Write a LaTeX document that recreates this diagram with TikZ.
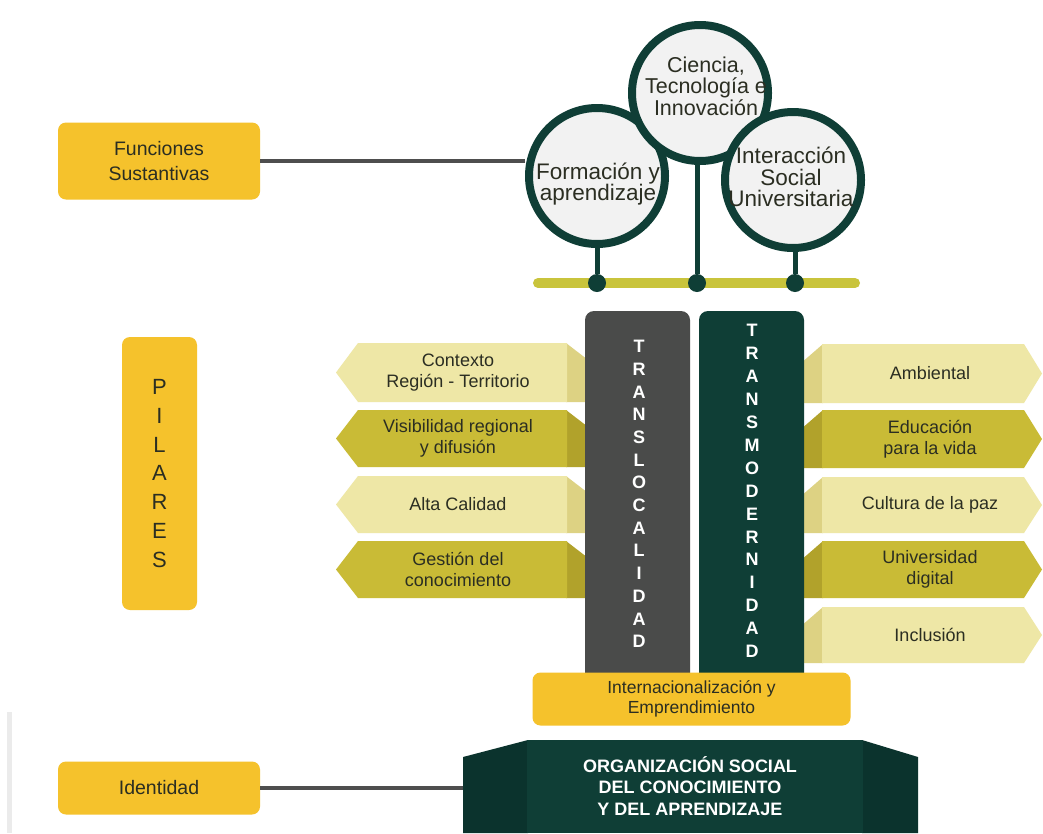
\documentclass[tikz,border=0pt]{standalone}
\usepackage{fontspec}
\setmainfont{Liberation Sans}
\definecolor{ybox}{HTML}{F5C22C}
\definecolor{dgreen}{HTML}{0F3E36}
\definecolor{dgreenside}{HTML}{0B332D}
\definecolor{gbar}{HTML}{4A4B4A}
\definecolor{clight}{HTML}{EEE7A6}
\definecolor{clightfold}{HTML}{DDD283}
\definecolor{cdark}{HTML}{C9BB36}
\definecolor{cdarkfold}{HTML}{B1A22B}
\definecolor{oline}{HTML}{C9C43C}
\definecolor{cfill}{HTML}{F2F2F2}
\definecolor{txt}{HTML}{2B2E22}
\definecolor{conn}{HTML}{4E4E4E}
\tikzset{
  ybx/.style={fill=ybox, rounded corners=8pt, inner sep=0pt, text=txt, align=center},
  chevtext/.style={text=txt, align=center, font=\fontsize{18}{21}\selectfont},
  circ/.style={circle, draw=dgreen, line width=8pt, fill=cfill, minimum size=136pt, inner sep=0pt},
  circtext/.style={text=txt, align=center, font=\fontsize{22.5}{21.5}\selectfont},
  vlet/.style={text=white, align=center, font=\fontsize{18}{22.7}\selectfont\bfseries},
  conline/.style={draw=conn, line width=4.5pt},
  stem/.style={draw=dgreen, line width=5pt},
  dot/.style={circle, fill=dgreen, minimum size=18pt, inner sep=0pt}
}
\newcommand\lchev[6]{%
  \fill[#5] (566,#2) -- (592,{#2+20}) -- (592,#3) -- (566,#3) -- cycle;
  \fill[#4] (336,{(#2+#3)/2}) -- (358,#2) -- (567,#2) -- (567,#3) -- (358,#3) -- cycle;
  \node[chevtext] (#1) at (458,{(#2+#3)/2}) {#6};}
\newcommand\rchev[6]{%
  \fill[#5] (823,#2) -- (800,{#2+20}) -- (800,#3) -- (823,#3) -- cycle;
  \fill[#4] (822,#2) -- (1024,#2) -- (1042,{(#2+#3)/2}) -- (1024,#3) -- (822,#3) -- cycle;
  \node[chevtext] (#1) at (930,{(#2+#3)/2}) {#6};}
\begin{document}
\begin{tikzpicture}[x=1pt,y=-1pt]
\useasboundingbox[fill=white] (0,0) rectangle (1043,833);
% faint shadow at left edge
\fill[black!8] (7,712) rectangle (12,833);

% Funciones Sustantivas
\node[ybx, minimum width=202pt, minimum height=77pt, font=\fontsize{19.5}{25}\selectfont] (func) at (159,161) {Funciones\\Sustantivas};

% olive line and stems
\draw[oline, line width=10pt, line cap=round] (538,283) -- (855,283);
\coordinate (cl) at (597,176);
\coordinate (cm) at (700,93);
\coordinate (cr) at (793,180);
\node[dot] (d1) at (597,283) {};
\node[dot] (d2) at (697,283) {};
\node[dot] (d3) at (795,283) {};
\draw[stem] (cl) -- (d1);
\draw[stem] (697,93) -- (d2);
\draw[stem] (795,180) -- (d3);

% circles
\node[circ] (form) at (cl) {};
\draw[conline] (func.east) -- (func.east -| form.west);
\node[circ] (cien) at (cm) {};
\node[circ] (inter) at (cr) {};
\node[circtext] (formt) at (598,184) {Formación y\\aprendizaje};
\node[circtext, font=\fontsize{21.5}{21.5}\selectfont] (cient) at (706,86) {Ciencia,\\Tecnología e\\Innovación};
\node[circtext] (intert) at (791,177) {Interacción\\Social\\Universitaria};

% PILARES
\node[ybx, minimum width=75pt, minimum height=273pt, font=\fontsize{22}{28.8}\selectfont] (pil) at (159.5,473.5) {P\\I\\L\\A\\R\\E\\S};

% left chevrons
\lchev{ctx}{343}{402}{clight}{clightfold}{Contexto\\Región - Territorio}
\lchev{vis}{410}{467}{cdark}{cdarkfold}{Visibilidad regional\\y difusión}
\lchev{alta}{476}{533}{clight}{clightfold}{Alta Calidad}
\lchev{gest}{541}{598}{cdark}{cdarkfold}{Gestión del\\conocimiento}

% right chevrons
\rchev{amb}{344}{403}{clight}{clightfold}{Ambiental}
\rchev{edu}{410}{468}{cdark}{cdarkfold}{Educación\\para la vida}
\rchev{cul}{477}{533}{clight}{clightfold}{Cultura de la paz}
\rchev{uni}{541}{598}{cdark}{cdarkfold}{Universidad\\digital}
\rchev{inc}{607}{663}{clight}{clightfold}{Inclusión}

% vertical bars
\fill[gbar, rounded corners=9pt] (585,690) rectangle (690,311);
\fill[dgreen, rounded corners=9pt] (699,690) rectangle (804,311);
\node[vlet] (transl) at (639,494) {T\\R\\A\\N\\S\\L\\O\\C\\A\\L\\I\\D\\A\\D};
\node[vlet, font=\fontsize{18}{22.9}\selectfont\bfseries] (transm) at (752,491) {T\\R\\A\\N\\S\\M\\O\\D\\E\\R\\N\\I\\D\\A\\D};

% Internacionalizacion
\node[ybx, minimum width=318pt, minimum height=53pt, font=\fontsize{17.5}{20}\selectfont] (intl) at (691.5,699) {Internacionalización y\\Emprendimiento};

% Organizacion social
\fill[dgreenside] (463,757) -- (528,740) -- (528,833) -- (463,833) -- cycle;
\fill[dgreenside] (862,740) -- (918,757) -- (918,833) -- (862,833) -- cycle;
\fill[dgreen] (527,740) rectangle (863,833);
\node[text=white, align=center, font=\fontsize{18}{21.5}\selectfont\bfseries] (org) at (690,786) {ORGANIZACIÓN SOCIAL\\DEL CONOCIMIENTO\\Y DEL APRENDIZAJE};
\coordinate (orgw) at (463,788);

% Identidad
\node[ybx, minimum width=202pt, minimum height=53pt, font=\fontsize{19.5}{23}\selectfont] (iden) at (159,788) {Identidad};
\draw[conline] (iden.east) -- (orgw);
\end{tikzpicture}
\end{document}
